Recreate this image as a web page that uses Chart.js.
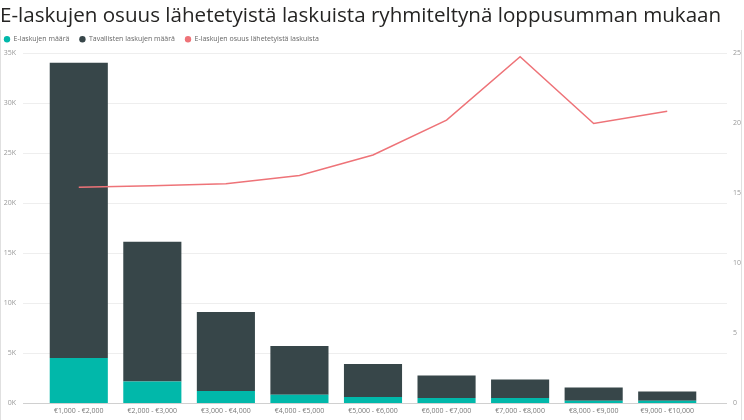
<!DOCTYPE html>
<html>
<head>
<meta charset="utf-8">
<script src="https://cdn.jsdelivr.net/npm/chart.js@4"></script>
<style>
  html, body { margin: 0; padding: 0; background: #fff; }
  #wrap { position: relative; width: 744px; height: 420px; }
  #frame { position: absolute; left: 0; top: 30px; width: 740px; height: 390px;
           border-left: 1px solid #e0e0e0; border-right: 1px solid #e0e0e0; }
</style>
</head>
<body>
<div id="wrap">
  <div id="frame"></div>
  <canvas id="chart" width="744" height="420"></canvas>
</div>
<script>
// Luokat ja arvot (luettu kuvasta)
const categories = ['€1,000 - €2,000', '€2,000 - €3,000', '€3,000 - €4,000', '€4,000 - €5,000',
  '€5,000 - €6,000', '€6,000 - €7,000', '€7,000 - €8,000', '€8,000 - €9,000', '€9,000 - €10,000'];
const eLaskut = [4500, 2150, 1200, 830, 600, 500, 500, 230, 220];
const kaikkiLaskut = [34000, 16100, 9100, 5700, 3900, 2760, 2360, 1560, 1160];
const tavallisetLaskut = kaikkiLaskut.map((v, i) => v - eLaskut[i]);
const eOsuus = [15.4, 15.5, 15.64, 16.24, 17.7, 20.19, 24.71, 19.95, 20.83];

const leftTicks = [0, 5000, 10000, 15000, 20000, 25000, 30000, 35000];
const rightTicks = [0, 5, 10, 15, 20, 25];

// Ruudukkoviivat leveämmälle kuin piirtoalue (Power BI -tyyli)
const gridPlugin = {
  id: 'wideGrid',
  afterLayout(chart) {
    // legenda hieman vasemmalle, kuten alkuperäisessä
    chart.legend.left -= 6;
  },
  beforeDatasetsDraw(chart) {
    const ctx = chart.ctx;
    const y = chart.scales.y;
    ctx.save();
    y.ticks.forEach(t => {
      const py = Math.round(y.getPixelForValue(t.value)) + 0.5;
      ctx.strokeStyle = t.value === 0 ? '#d0d0d0' : '#eeeeee';
      ctx.lineWidth = 1;
      ctx.beginPath();
      ctx.moveTo(23, py);
      ctx.lineTo(727, py);
      ctx.stroke();
    });
    ctx.restore();
  }
};

const legendOrder = [1, 2, 0];

new Chart(document.getElementById('chart'), {
  type: 'bar',
  data: {
    labels: categories,
    datasets: [
      {
        type: 'line',
        label: 'E-laskujen osuus lähetetyistä laskuista',
        data: eOsuus,
        yAxisID: 'y2',
        borderColor: '#EE7378',
        backgroundColor: '#EE7378',
        borderWidth: 1.5,
        pointRadius: 0,
        tension: 0,
        order: 0
      },
      {
        label: 'E-laskujen määrä',
        data: eLaskut,
        backgroundColor: '#01B8AA',
        stack: 's',
        order: 1
      },
      {
        label: 'Tavallisten laskujen määrä',
        data: tavallisetLaskut,
        backgroundColor: '#374649',
        stack: 's',
        order: 1
      }
    ]
  },
  options: {
    responsive: false,
    animation: false,
    layout: { padding: { left: 0, right: 0, top: 0, bottom: 4 } },
    datasets: { bar: { categoryPercentage: 1, barPercentage: 0.79 } },
    plugins: {
      title: {
        display: true,
        text: 'E-laskujen osuus lähetetyistä laskuista ryhmiteltynä loppusumman mukaan',
        align: 'start',
        color: '#252423',
        font: { family: 'Open Sans', size: 20.6, weight: 'normal' },
        padding: { top: 4, bottom: -3 }
      },
      legend: {
        align: 'start',
        labels: {
          generateLabels: chart => legendOrder.map(i => {
            const ds = chart.data.datasets[i];
            return {
              text: ds.label,
              fillStyle: ds.backgroundColor,
              strokeStyle: ds.backgroundColor,
              lineWidth: 0,
              pointStyle: 'circle',
              datasetIndex: i,
              fontColor: '#666666'
            };
          }),
          usePointStyle: true,
          boxWidth: 6,
          boxHeight: 4.5,
          padding: 10,
          color: '#666666',
          font: { family: 'Open Sans', size: 7 }
        }
      },
      tooltip: { enabled: false }
    },
    scales: {
      x: {
        stacked: true,
        afterFit: s => { s.height = 13; },
        grid: { display: false, drawTicks: false },
        border: { display: false },
        ticks: { color: '#777777', font: { family: 'Open Sans', size: 7 }, maxRotation: 0, padding: 4 }
      },
      y: {
        stacked: true,
        position: 'left',
        min: 0,
        max: 35000,
        afterBuildTicks: s => { s.ticks = leftTicks.map(v => ({ value: v })); },
        afterFit: s => { s.width = 42; s.paddingTop = 4; s.paddingBottom = 4; },
        grid: { display: false, drawTicks: false },
        border: { display: false },
        ticks: {
          color: '#999999',
          font: { family: 'Open Sans', size: 7 },
          padding: 26,
          callback: v => (v / 1000) + 'K'
        }
      },
      y2: {
        position: 'right',
        min: 0,
        max: 25,
        afterBuildTicks: s => { s.ticks = rightTicks.map(v => ({ value: v })); },
        afterFit: s => { s.width = 40; s.paddingTop = 4; s.paddingBottom = 4; },
        grid: { display: false, drawTicks: false },
        border: { display: false },
        ticks: {
          color: '#999999',
          font: { family: 'Open Sans', size: 7 },
          padding: 29
        }
      }
    }
  },
  plugins: [gridPlugin]
});
</script>
</body>
</html>
